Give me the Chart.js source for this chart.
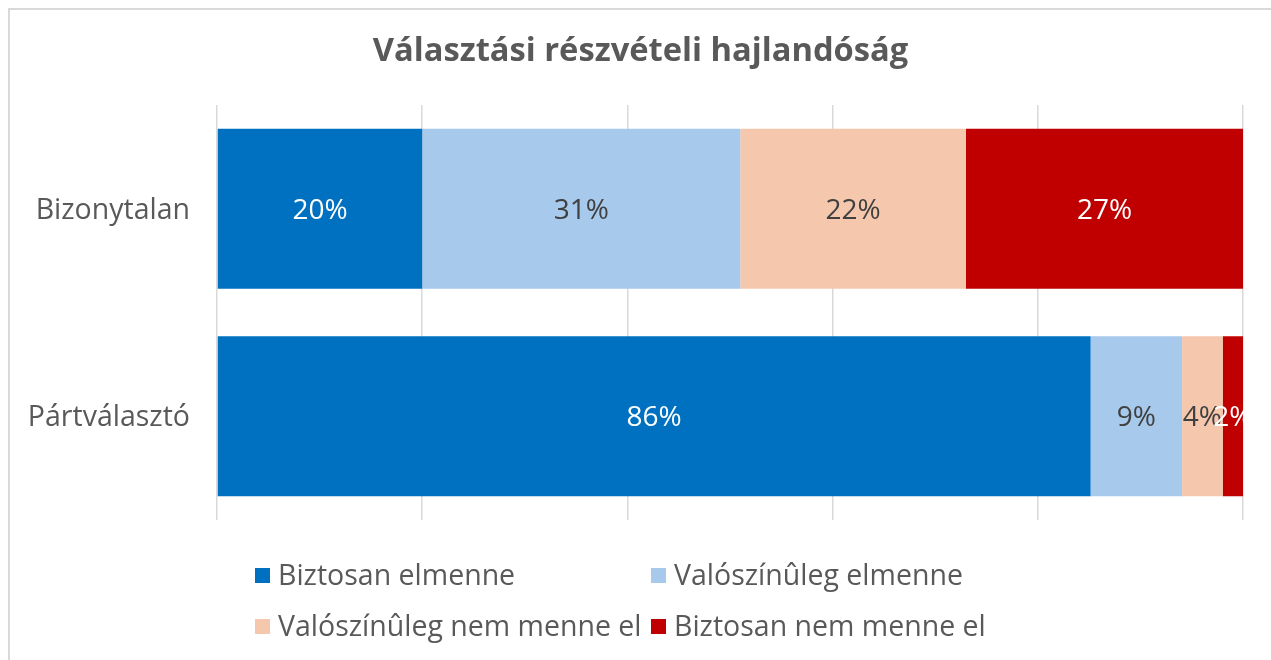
<!DOCTYPE html>
<html>
<head>
<meta charset="utf-8">
<script src="https://cdn.jsdelivr.net/npm/chart.js@4.4.1/dist/chart.umd.min.js"></script>
<style>
  html, body { margin: 0; padding: 0; background: #fff; overflow: hidden; }
  #frame { position: absolute; left: 8px; top: 8px; width: 1400px; height: 800px; border: 2px solid #d9d9d9; box-sizing: border-box; }
  #wrap { position: absolute; left: 10px; top: 10px; width: 1261px; height: 650px; }
  #legend { position: absolute; left: 0; top: 0; font-family: "Open Sans", sans-serif; font-size: 28.5px; color: #595959; }
  .item { position: absolute; white-space: nowrap; line-height: 1; }
  .item span.box { display: inline-block; width: 15px; height: 15px; margin-right: 8px; vertical-align: middle; position: relative; top: -2px; }
</style>
</head>
<body>
<div id="frame"></div>
<div id="wrap"><canvas id="chart"></canvas></div>
<div id="legend"></div>
<script>
const categories = ["Bizonytalan", "Pártválasztó"];
const seriesNames = ["Biztosan elmenne", "Valószínûleg elmenne", "Valószínûleg nem menne el", "Biztosan nem menne el"];
const biztosanElmenne = [20, 86];
const valoszinulegElmenne = [31, 9];
const valoszinulegNem = [22, 4];
const biztosanNem = [27, 2];
const colors = ["#0070C0", "#A6C9EC", "#F5C7AD", "#C00000"];
const labelColors = ["#ffffff", "#404040", "#404040", "#ffffff"];
const xTicks = [0, 20, 40, 60, 80, 100];
const chartTitle = "Választási részvételi hajlandóság";

const raw = [biztosanElmenne, valoszinulegElmenne, valoszinulegNem, biztosanNem];
// 100% stacked: normalise each category to its total
const totals = categories.map((c, i) => raw.reduce((s, arr) => s + arr[i], 0));

const datasets = raw.map((arr, k) => ({
    label: seriesNames[k],
    data: arr.map((v, i) => v / totals[i] * 100),
    rawValues: arr,
    backgroundColor: colors[k],
    labelColor: labelColors[k],
    borderWidth: 0,
    barPercentage: 1,
    categoryPercentage: 0.771
}));

const FONT = '"Open Sans", sans-serif';

const valueLabels = {
    id: "valueLabels",
    afterDatasetsDraw(chart) {
        const ctx = chart.ctx;
        ctx.save();
        ctx.font = "28px " + FONT;
        ctx.textAlign = "center";
        ctx.textBaseline = "middle";
        chart.data.datasets.forEach((ds, k) => {
            chart.getDatasetMeta(k).data.forEach((bar, i) => {
                const p = bar.getProps(["x", "y", "base"], true);
                ctx.fillStyle = ds.labelColor;
                ctx.fillText(ds.rawValues[i] + "%", (p.x + p.base) / 2, p.y + 2);
            });
        });
        ctx.restore();
    }
};

// title centred on the whole frame (the built-in one centres inside the padding)
const centredTitle = {
    id: "centredTitle",
    afterDraw(chart) {
        const ctx = chart.ctx;
        ctx.save();
        ctx.font = "bold 32.7px " + FONT;
        ctx.fillStyle = "#595959";
        ctx.textAlign = "center";
        ctx.textBaseline = "middle";
        ctx.fillText(chartTitle, chart.width / 2, 41.6);
        ctx.restore();
    }
};

new Chart(document.getElementById("chart"), {
    type: "bar",
    data: { labels: categories, datasets: datasets },
    options: {
        indexAxis: "y",
        responsive: true,
        maintainAspectRatio: false,
        animation: false,
        layout: { padding: { left: 0, right: 28, top: 95, bottom: 140 } },
        plugins: {
            legend: { display: false },
            tooltip: { enabled: false },
            title: { display: false }
        },
        scales: {
            x: {
                stacked: true,
                min: 0, max: 100,
                afterBuildTicks(scale) { scale.ticks = xTicks.map(v => ({ value: v })); },
                ticks: { display: false },
                grid: { color: "#d9d9d9", lineWidth: 1.5, drawTicks: false },
                border: { display: false }
            },
            y: {
                stacked: true,
                afterFit(scale) { scale.width = 207; },
                ticks: { color: "#595959", font: { family: FONT, size: 28.5 }, padding: 27, labelOffset: 2 },
                grid: { display: false, drawTicks: false },
                border: { display: false }
            }
        }
    },
    plugins: [valueLabels, centredTitle]
});

// legend in two aligned columns, as in the original
const legendPos = [[255, 575], [651, 575], [255, 626], [651, 626]];
const legend = document.getElementById("legend");
seriesNames.forEach((name, k) => {
    const el = document.createElement("div");
    el.className = "item";
    el.style.left = legendPos[k][0] + "px";
    el.style.top = (legendPos[k][1] - 15) + "px";
    el.innerHTML = '<span class="box" style="background:' + colors[k] + '"></span>' + name;
    legend.appendChild(el);
});
</script>
</body>
</html>
